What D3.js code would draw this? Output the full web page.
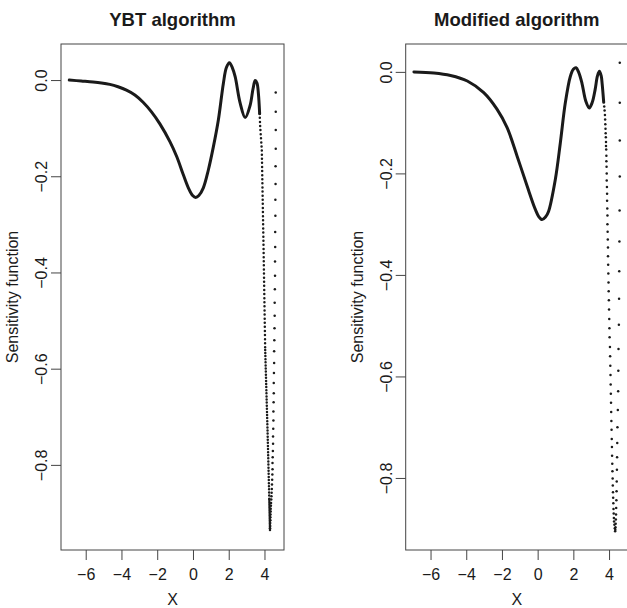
<!DOCTYPE html>
<html>
<head>
<meta charset="utf-8">
<script src="https://cdn.jsdelivr.net/npm/d3@7"></script>
<style>
body { margin: 0; background: #fff; }
text { font-family: "Liberation Sans", Arial, Helvetica, sans-serif; fill: #1a1a1a; }
</style>
</head>
<body>
<div id="chart"></div>
<script>
// tick values shared by both panels
var xTicks = [-6, -4, -2, 0, 2, 4];
var yTicks = [0, -0.2, -0.4, -0.6, -0.8];

// YBT algorithm: smooth part of the curve
var ybtCurve = [[-6.92, 0], [-6.25, -0.002], [-5.59, -0.004], [-5.12, -0.006], [-4.65, -0.009],
  [-4.19, -0.014], [-3.72, -0.021], [-3.25, -0.031], [-2.79, -0.046], [-2.32, -0.066],
  [-1.85, -0.091], [-1.29, -0.128], [-0.91, -0.159], [-0.54, -0.197], [-0.26, -0.224],
  [-0.02, -0.240], [0.15, -0.244], [0.33, -0.240], [0.58, -0.224], [0.86, -0.187], [1.14, -0.139],
  [1.42, -0.083], [1.70, -0.007], [1.87, 0.026], [2.04, 0.036], [2.20, 0.026], [2.36, 0.007],
  [2.64, -0.048], [2.92, -0.078], [3.20, -0.052], [3.36, -0.018], [3.48, -0.001], [3.58, -0.006],
  [3.66, -0.028], [3.73, -0.07]];
// YBT algorithm: steep drop, drawn dotted
var ybtDropUpper = [[3.73, -0.07], [3.76, -0.097], [3.85, -0.145], [3.95, -0.353], [4.04, -0.561]];
var ybtDropLower = [[4.04, -0.561], [4.17, -0.727], [4.27, -0.872]];
var ybtDropTip = [[4.27, -0.872], [4.31, -0.938]];
// YBT algorithm: outer column of points
var ybtOuter = [[4.63, -0.026], [4.63, -0.066], [4.63, -0.104], [4.63, -0.143], [4.62, -0.179],
  [4.62, -0.216], [4.61, -0.249], [4.61, -0.282], [4.60, -0.316], [4.60, -0.347], [4.59, -0.377],
  [4.59, -0.407], [4.58, -0.435], [4.57, -0.463], [4.57, -0.490], [4.56, -0.516], [4.55, -0.541],
  [4.54, -0.564], [4.54, -0.588], [4.53, -0.609], [4.52, -0.630], [4.52, -0.651], [4.51, -0.670],
  [4.50, -0.689], [4.50, -0.708], [4.49, -0.725], [4.48, -0.741], [4.48, -0.756], [4.47, -0.771],
  [4.46, -0.784], [4.45, -0.796], [4.45, -0.809], [4.44, -0.820], [4.43, -0.831], [4.42, -0.841],
  [4.41, -0.850], [4.40, -0.858], [4.39, -0.865], [4.38, -0.872], [4.37, -0.879], [4.36, -0.885],
  [4.35, -0.891], [4.35, -0.897], [4.34, -0.903], [4.33, -0.909], [4.33, -0.915], [4.32, -0.921],
  [4.32, -0.927], [4.31, -0.932]];

// Modified algorithm: smooth part of the curve
var modCurve = [[-6.93, 0], [-5.81, -0.002], [-4.88, -0.007], [-3.94, -0.018], [-3.02, -0.041],
  [-2.27, -0.074], [-1.71, -0.110], [-1.15, -0.166], [-0.59, -0.225], [-0.13, -0.271],
  [0.06, -0.285], [0.25, -0.291], [0.44, -0.286], [0.61, -0.275], [0.99, -0.212], [1.27, -0.140],
  [1.55, -0.061], [1.83, -0.009], [2.00, 0.005], [2.15, 0.008], [2.30, -0.001], [2.48, -0.022],
  [2.70, -0.058], [2.89, -0.071], [3.06, -0.060], [3.22, -0.035], [3.35, -0.008], [3.46, 0.001],
  [3.56, -0.008], [3.61, -0.022], [3.70, -0.060]];
// Modified algorithm: steep drop, one entry per point
var modInner = [[3.73, -0.068], [3.75, -0.076], [3.77, -0.085], [3.78, -0.094], [3.79, -0.103],
  [3.80, -0.112], [3.81, -0.121], [3.82, -0.129], [3.83, -0.138], [3.83, -0.146], [3.84, -0.153],
  [3.85, -0.165], [3.85, -0.176], [3.86, -0.187], [3.87, -0.200], [3.87, -0.214], [3.88, -0.227],
  [3.89, -0.240], [3.89, -0.254], [3.90, -0.269], [3.91, -0.283], [3.91, -0.300], [3.92, -0.315],
  [3.93, -0.330], [3.94, -0.346], [3.94, -0.363], [3.95, -0.380], [3.96, -0.397], [3.97, -0.415],
  [3.98, -0.432], [3.99, -0.450], [4.00, -0.468], [4.01, -0.487], [4.02, -0.505], [4.03, -0.523],
  [4.05, -0.542], [4.06, -0.560], [4.07, -0.579], [4.08, -0.597], [4.09, -0.616], [4.10, -0.634],
  [4.11, -0.652], [4.12, -0.670], [4.13, -0.688], [4.14, -0.705], [4.15, -0.723], [4.16, -0.739],
  [4.17, -0.756], [4.18, -0.772], [4.19, -0.787], [4.20, -0.801], [4.21, -0.815], [4.22, -0.828],
  [4.23, -0.839], [4.24, -0.850], [4.25, -0.861], [4.26, -0.870], [4.27, -0.879], [4.28, -0.886],
  [4.30, -0.892], [4.32, -0.899], [4.34, -0.905]];
// Modified algorithm: outer column of points
var modOuter = [[4.60, 0.018], [4.60, -0.061], [4.60, -0.135], [4.60, -0.206], [4.59, -0.273],
  [4.58, -0.334], [4.57, -0.393], [4.56, -0.447], [4.55, -0.498], [4.53, -0.546], [4.52, -0.589],
  [4.51, -0.629], [4.49, -0.666], [4.47, -0.700], [4.46, -0.731], [4.45, -0.759], [4.44, -0.784],
  [4.43, -0.807], [4.42, -0.826], [4.41, -0.844], [4.40, -0.859], [4.39, -0.872], [4.38, -0.882],
  [4.37, -0.890], [4.36, -0.897], [4.35, -0.902]];

var svgWidth = 627;
var svgHeight = 608;
var plotTop = 44;
var plotBottom = 550;
var ink = "#1a1a1a";

var svg = d3.select("#chart")
  .append("svg")
  .attr("width", svgWidth)
  .attr("height", svgHeight)
  .style("display", "block");

svg.append("rect")
  .attr("width", svgWidth)
  .attr("height", svgHeight)
  .attr("fill", "#fff");

// R-style axis range: data extent plus 4% each side
function padded(ext) {
  var pad = (ext[1] - ext[0]) * 0.04;
  return [ext[0] - pad, ext[1] + pad];
}

function drawPanel(opts) {
  var all = opts.curve.concat(opts.outer);
  opts.dotted.forEach(function(seg) { all = all.concat(seg.pts); });
  if (opts.inner) all = all.concat(opts.inner);

  var x = d3.scaleLinear()
    .domain(padded(d3.extent(all, d => d[0])))
    .range([opts.left, opts.right]);
  var y = d3.scaleLinear()
    .domain(padded(d3.extent(all, d => d[1])))
    .range([plotBottom, plotTop]);

  var g = svg.append("g");

  // axes
  var xAxis = g.append("g")
    .attr("transform", `translate(0, ${plotBottom})`)
    .call(d3.axisBottom(x).tickValues(xTicks).tickSize(10).tickSizeOuter(0));
  xAxis.select(".domain").remove();
  xAxis.selectAll("line").attr("stroke", "#444");
  xAxis.selectAll("text")
    .attr("y", 29.5)
    .attr("dy", 0)
    .style("font-size", "16px")
    .style("font-family", "'Liberation Sans', Arial, sans-serif")
    .attr("fill", ink);

  var yAxis = g.append("g")
    .attr("transform", `translate(${opts.left}, 0)`)
    .call(d3.axisLeft(y).tickValues(yTicks).tickSize(10).tickSizeOuter(0).tickFormat(d3.format(".1f")));
  yAxis.select(".domain").remove();
  yAxis.selectAll("line").attr("stroke", "#444");
  yAxis.selectAll("text")
    .attr("transform", "rotate(-90)")
    .attr("x", 0)
    .attr("y", -14)
    .attr("dy", 0)
    .attr("text-anchor", "middle")
    .style("font-size", "16px")
    .style("font-family", "'Liberation Sans', Arial, sans-serif")
    .attr("fill", ink);

  // box
  g.append("rect")
    .attr("x", opts.left)
    .attr("y", plotTop)
    .attr("width", opts.right - opts.left)
    .attr("height", plotBottom - plotTop)
    .attr("fill", "none")
    .attr("stroke", "#444")
    .attr("stroke-width", 1);

  var cx = (opts.left + opts.right) / 2;

  // title
  g.append("text")
    .attr("x", cx)
    .attr("y", 26)
    .attr("text-anchor", "middle")
    .style("font-size", "18.5px")
    .style("font-weight", "bold")
    .text(opts.title);

  // axis titles
  g.append("text")
    .attr("x", cx)
    .attr("y", 604.5)
    .attr("text-anchor", "middle")
    .style("font-size", "16px")
    .text("X");

  g.append("text")
    .attr("transform", `translate(${opts.left - 43}, ${(plotTop + plotBottom) / 2}) rotate(-90)`)
    .attr("text-anchor", "middle")
    .style("font-size", "16px")
    .text("Sensitivity function");

  var line = d3.line()
    .x(d => x(d[0]))
    .y(d => y(d[1]));

  // smooth part
  g.append("path")
    .datum(opts.curve)
    .attr("d", line.curve(d3.curveCatmullRom.alpha(0.5)))
    .attr("fill", "none")
    .attr("stroke", ink)
    .attr("stroke-width", 3)
    .attr("stroke-linecap", "round")
    .attr("stroke-linejoin", "round");

  // dotted steep parts
  var straight = d3.line().x(d => x(d[0])).y(d => y(d[1]));
  opts.dotted.forEach(function(seg) {
    g.append("path")
      .datum(seg.pts)
      .attr("d", straight)
      .attr("fill", "none")
      .attr("stroke", ink)
      .attr("stroke-width", 2.5)
      .attr("stroke-linecap", "round")
      .attr("stroke-dasharray", `0 ${seg.gap}`);
  });

  // individual points
  var pts = opts.outer.concat(opts.inner || []);
  g.selectAll("circle.pt")
    .data(pts)
    .enter()
    .append("circle")
    .attr("class", "pt")
    .attr("cx", d => x(d[0]))
    .attr("cy", d => y(d[1]))
    .attr("r", 1.25)
    .attr("fill", ink);
}

drawPanel({
  title: "YBT algorithm",
  left: 61,
  right: 284,
  curve: ybtCurve,
  dotted: [
    { pts: ybtDropUpper, gap: 4.1 },
    { pts: ybtDropLower, gap: 3.1 },
    { pts: ybtDropTip, gap: 1.6 }
  ],
  outer: ybtOuter
});

drawPanel({
  title: "Modified algorithm",
  left: 405.7,
  right: 628,
  curve: modCurve,
  dotted: [],
  inner: modInner,
  outer: modOuter
});
</script>
</body>
</html>
